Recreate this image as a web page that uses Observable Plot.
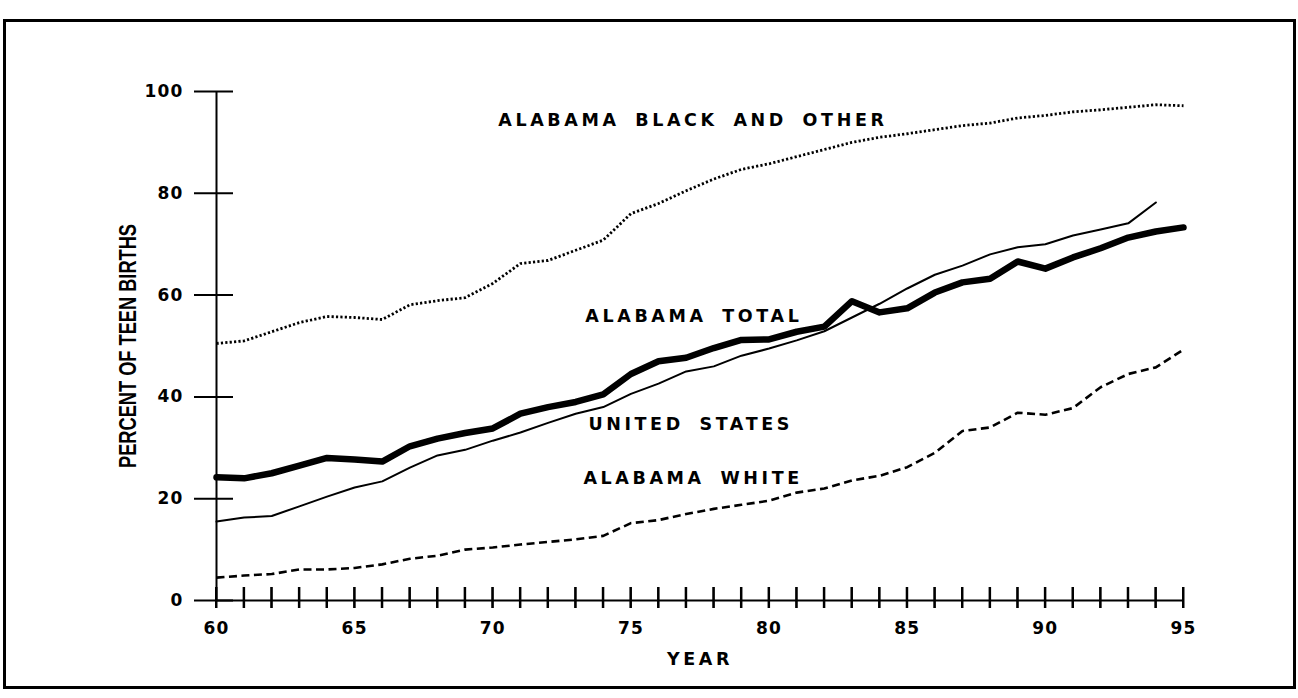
<!DOCTYPE html>
<html><head><meta charset="utf-8">
<script src="https://cdn.jsdelivr.net/npm/d3@7"></script>
<script src="https://cdn.jsdelivr.net/npm/@observablehq/plot@0.6"></script>
<style>
body{margin:0;background:#fff;}
#wrap{position:relative;width:1298px;height:698px;overflow:hidden;}
#border{position:absolute;left:3px;top:19px;width:1287px;height:664px;border:3px solid #000;pointer-events:none;}
#wrap svg{position:absolute;left:0;top:0;}
</style></head><body><div id="wrap"><div id="border"></div></div>
<script>
const years = [60,61,62,63,64,65,66,67,68,69,70,71,72,73,74,75,76,77,78,79,80,81,82,83,84,85,86,87,88,89,90,91,92,93,94,95];
const alabamaTotal = [24.2,24.0,25.0,26.5,28.0,27.7,27.3,30.3,31.8,32.9,33.8,36.7,38.0,39.0,40.5,44.5,47.0,47.7,49.6,51.2,51.3,52.8,53.8,58.8,56.6,57.4,60.5,62.5,63.2,66.6,65.2,67.4,69.2,71.3,72.5,73.3];
const unitedStates = [15.5,16.3,16.6,18.5,20.4,22.2,23.4,26.1,28.5,29.6,31.4,33.0,34.9,36.7,38.0,40.6,42.6,45.0,46.0,48.1,49.5,51.1,52.9,55.6,58.3,61.3,64.0,65.8,68.0,69.4,70.0,71.7,72.9,74.1,78.2,null];
const alabamaBlackOther = [50.5,51.0,52.8,54.6,55.8,55.6,55.2,58.1,58.9,59.5,62.3,66.2,66.8,68.8,70.8,76.0,78.0,80.5,82.8,84.7,85.8,87.2,88.6,90.0,91.0,91.7,92.5,93.3,93.8,94.8,95.3,96.0,96.4,96.9,97.4,97.2];
const alabamaWhite = [4.5,4.9,5.2,6.1,6.1,6.4,7.1,8.2,8.8,10.0,10.4,11.0,11.5,12.0,12.7,15.2,15.8,17.0,18.0,18.8,19.6,21.2,22.0,23.6,24.5,26.2,29.0,33.3,34.0,36.9,36.5,37.8,41.9,44.5,45.8,49.3];
const yTicks = [0,20,40,60,80,100];
const xTickLabels = [60,65,70,75,80,85,90,95];
const seriesLabels = ["ALABAMA BLACK AND OTHER","ALABAMA TOTAL","UNITED STATES","ALABAMA WHITE"];
const labelYears = [70.2,73.35,73.46,73.28];
const labelValues = [94.3,55.8,34.6,24.0];
const yTitle = "PERCENT OF TEEN BIRTHS";
const xTitle = "YEAR";

const rows = years.map((yr,i)=>({year:yr,total:alabamaTotal[i],us:unitedStates[i],black:alabamaBlackOther[i],white:alabamaWhite[i]}));
const labels = seriesLabels.map((t,i)=>({text:t,x:labelYears[i],y:labelValues[i]}));

const chart = Plot.plot({
  width:1298, height:698,
  marginLeft:216, marginRight:115, marginTop:91, marginBottom:98,
  x:{domain:[60,95]}, y:{domain:[0,100]},
  style:{fontFamily:"DejaVu Sans", fontSize:"17px", fontWeight:"bold", background:"transparent"},
  marks:[
    Plot.ruleX(years,{x:d=>d,y1:0,y2:0,insetTop:-13,insetBottom:-8,stroke:"#000",strokeWidth:2}),
    Plot.ruleX([60],{y1:0,y2:100,stroke:"#000",strokeWidth:2}),
    Plot.ruleY([0],{x1:60,x2:95,stroke:"#000",strokeWidth:2}),
    Plot.axisY(yTicks,{tickSize:39,dx:17,fill:"none",label:null,strokeWidth:2}),
    Plot.axisY(yTicks,{tickSize:0,tickPadding:33,stroke:"none",label:null,fontSize:17,fontWeight:"bold"}),
    Plot.axisX(xTickLabels,{tickSize:0,tickPadding:21,stroke:"none",label:null,fontSize:17,fontWeight:"bold"}),
    Plot.line(rows,{x:"year",y:"white",stroke:"#000",strokeWidth:2.6,strokeLinecap:"butt",strokeDasharray:"8,4.5"}),
    Plot.line(rows,{x:"year",y:"black",stroke:"#000",strokeWidth:2.8,strokeLinecap:"butt",strokeDasharray:"2.2,2.2"}),
    Plot.line(rows,{x:"year",y:"us",stroke:"#000",strokeWidth:2}),
    Plot.line(rows,{x:"year",y:"total",stroke:"#000",strokeWidth:6.5,strokeLinejoin:"round"}),
    Plot.text(labels,{x:"x",y:"y",text:"text",textAnchor:"start",fontSize:17.5,fontWeight:"bold"}),
    Plot.text([yTitle],{frameAnchor:"left",textAnchor:"middle",dx:-88,rotate:-90,fontFamily:"Liberation Sans",fontSize:24,fontWeight:"bold"}),
    Plot.text([xTitle],{frameAnchor:"bottom",textAnchor:"middle",dy:64,fontSize:17.5,fontWeight:"bold"})
  ]
});
const svg = d3.select(chart);
svg.selectAll("text").filter(function(){return seriesLabels.includes(this.textContent) || this.textContent === xTitle;})
  .style("letter-spacing","3.6px").style("word-spacing","6px");
svg.selectAll("text").filter(function(){return this.textContent === yTitle;})
  .each(function(){ this.setAttribute("transform", (this.getAttribute("transform")||"") + " scale(0.76,1)"); });
svg.selectAll('g[aria-label="y-axis tick label"] text, g[aria-label="x-axis tick label"] text').style("letter-spacing","1.2px");
// year ticks placed with Plot's own x and y scales, on top of everything
const sx = chart.scale("x"), sy = chart.scale("y");
const y0 = sy.apply(0);
svg.append("g").attr("aria-label","year ticks").selectAll("line").data(years).join("line")
  .attr("x1", d => sx.apply(d)).attr("x2", d => sx.apply(d))
  .attr("y1", y0 - 13).attr("y2", y0 + 8)
  .attr("stroke","#000").attr("stroke-width",2);
document.getElementById("wrap").appendChild(chart);
</script>
</body></html>
